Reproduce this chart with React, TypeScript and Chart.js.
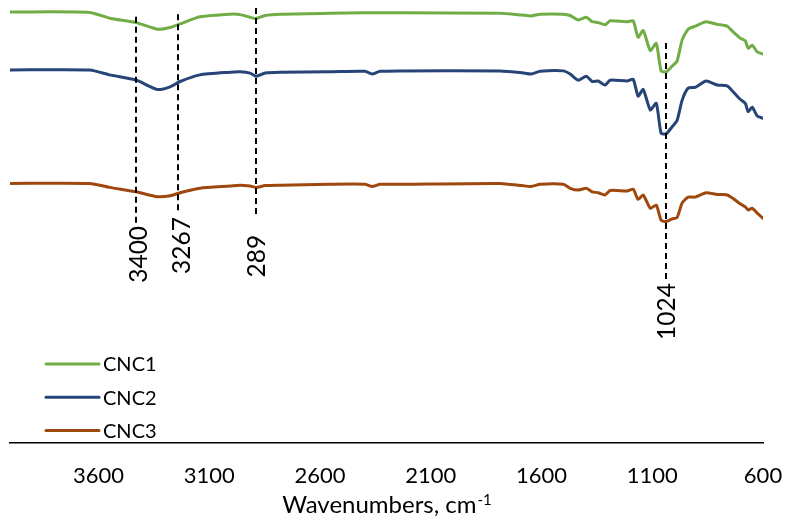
import React, { useEffect, useRef } from 'react';
import { Chart, registerables } from 'chart.js';

Chart.register(...registerables);

const wavenumbers = [4000, 3640, 3550, 3430, 3335, 3277, 3232, 3142, 3006, 2961, 2916, 2889, 2848, 2780, 2555, 2397, 2365, 2329, 2239, 1787, 1688, 1647, 1606, 1502, 1471, 1435, 1398, 1371, 1344, 1313, 1290, 1213, 1186, 1164, 1141, 1109, 1082, 1060, 1037, 1010, 988, 965, 938, 906, 857, 807, 762, 735, 703, 680, 667, 649, 626, 600];

const cnc1 = [97.3, 97.2, 95.9, 94.9, 93.4, 93.8, 94.6, 96.2, 96.8, 96.7, 96.1, 95.8, 96.5, 96.8, 97.0, 97.1, 97.1, 97.1, 97.1, 97.0, 96.6, 96.4, 96.8, 96.8, 96.5, 95.5, 96.1, 95.1, 94.9, 94.4, 95.3, 95.1, 95.3, 91.6, 93.1, 88.6, 90.2, 84.0, 83.8, 85.1, 86.2, 91.0, 93.4, 94.1, 95.1, 94.5, 94.1, 92.8, 91.4, 90.8, 89.1, 89.8, 88.3, 87.8];

const cnc2 = [84.2, 84.2, 83.1, 81.9, 79.8, 80.4, 81.6, 83.1, 83.7, 83.8, 83.5, 82.8, 83.5, 83.7, 83.8, 83.9, 83.3, 83.9, 84.0, 84.0, 83.6, 83.3, 83.9, 84.0, 83.3, 81.9, 82.8, 81.6, 81.7, 80.8, 81.9, 81.7, 82.1, 78.3, 79.8, 75.2, 76.7, 69.9, 69.8, 71.4, 72.8, 77.4, 80.1, 80.3, 81.7, 80.8, 80.6, 79.3, 77.6, 76.7, 74.8, 75.8, 73.8, 73.3];

const cnc3 = [58.6, 58.6, 57.7, 56.7, 55.6, 55.8, 56.5, 57.5, 58.0, 58.2, 58.0, 57.7, 58.1, 58.2, 58.4, 58.4, 57.9, 58.4, 58.4, 58.6, 58.1, 57.9, 58.4, 58.4, 57.5, 57.1, 57.5, 56.7, 56.5, 56.0, 57.0, 56.9, 57.3, 55.0, 56.0, 53.0, 53.7, 50.3, 50.0, 50.6, 50.9, 54.2, 55.5, 55.5, 56.5, 56.1, 56.0, 55.2, 54.0, 53.3, 52.6, 53.0, 51.9, 50.7];

const seriesLabels = ['CNC1', 'CNC2', 'CNC3'];
const xTicks = [600, 1100, 1600, 2100, 2600, 3100, 3600];

const peakLabels = ['3400', '3267', '289', '1024'];
const peakLineWavenumbers = [3431, 3243, 2887, 1038];
const peakLineTops = [96.2, 96.8, 98.2, 90.3];
const peakLineBottoms = [49.7, 51.9, 50.8, 36.8];
const peakLabelWavenumbers = [3415, 3225, 2883, 1033];
const peakLabelTops = [49.0, 51.0, 47.0, 36.1];

const axisTitle = 'Wavenumbers, cm';
const axisTitleSup = '-1';

const FONT = 'Lato, "Open Sans", sans-serif';
const COLORS = ['#70AD47', '#264478', '#9E480E'];

const peakPlugin = {
  id: 'peaks',
  afterDatasetsDraw(chart: any) {
    const ctx = chart.ctx;
    const xs = chart.scales.x;
    const ys = chart.scales.y;
    ctx.save();
    ctx.strokeStyle = '#000';
    ctx.lineWidth = 2;
    ctx.setLineDash([6, 4]);
    for (let i = 0; i < peakLabels.length; i++) {
      const px = Math.round(xs.getPixelForValue(peakLineWavenumbers[i]));
      ctx.beginPath();
      ctx.moveTo(px, ys.getPixelForValue(peakLineTops[i]));
      ctx.lineTo(px, ys.getPixelForValue(peakLineBottoms[i]));
      ctx.stroke();
    }
    ctx.setLineDash([]);
    ctx.fillStyle = '#000';
    ctx.font = `24.5px ${FONT}`;
    ctx.textAlign = 'right';
    ctx.textBaseline = 'middle';
    for (let i = 0; i < peakLabels.length; i++) {
      const lx = xs.getPixelForValue(peakLabelWavenumbers[i]);
      const ly = ys.getPixelForValue(peakLabelTops[i]);
      ctx.save();
      ctx.translate(lx, ly);
      ctx.rotate(-Math.PI / 2);
      ctx.fillText(peakLabels[i], 0, 0);
      ctx.restore();
    }
    ctx.restore();
  },
};

const legendPlugin = {
  id: 'innerLegend',
  afterDraw(chart: any) {
    const ctx = chart.ctx;
    const area = chart.chartArea;
    ctx.save();
    ctx.font = `20px ${FONT}`;
    ctx.textBaseline = 'middle';
    ctx.textAlign = 'left';
    for (let i = 0; i < seriesLabels.length; i++) {
      const y = area.bottom - 12.5 - (seriesLabels.length - 1 - i) * 33.3;
      ctx.strokeStyle = COLORS[i];
      ctx.lineWidth = 3;
      ctx.lineCap = 'round';
      ctx.beginPath();
      ctx.moveTo(area.left + 36, y);
      ctx.lineTo(area.left + 89, y);
      ctx.stroke();
      ctx.fillStyle = '#000';
      ctx.fillText(seriesLabels[i], area.left + 93, y + 1);
    }
    ctx.restore();
  },
};

const titlePlugin = {
  id: 'axisTitle',
  afterDraw(chart: any) {
    const ctx = chart.ctx;
    const area = chart.chartArea;
    ctx.save();
    ctx.fillStyle = '#000';
    ctx.textBaseline = 'alphabetic';
    ctx.textAlign = 'left';
    const mainFont = `24px ${FONT}`;
    const supFont = `15px ${FONT}`;
    ctx.font = mainFont;
    const w1 = ctx.measureText(axisTitle).width;
    ctx.font = supFont;
    const w2 = ctx.measureText(axisTitleSup).width;
    const cx = (area.left + area.right) / 2;
    const x0 = cx - (w1 + w2) / 2;
    const base = chart.height - 12;
    ctx.font = mainFont;
    ctx.fillText(axisTitle, x0, base);
    ctx.font = supFont;
    ctx.fillText(axisTitleSup, x0 + w1 + 1, base - 8);
    ctx.restore();
  },
};

export default function App() {
  const ref = useRef<HTMLCanvasElement | null>(null);
  useEffect(() => {
    if (!ref.current) return;
    const datasets = [cnc1, cnc2, cnc3].map((vals, i) => ({
      label: seriesLabels[i],
      data: wavenumbers.map((w, j) => ({ x: w, y: vals[j] })),
      borderColor: COLORS[i],
      backgroundColor: COLORS[i],
      borderWidth: 3,
      pointRadius: 0,
      tension: 0.2,
      borderCapStyle: 'round' as const,
      borderJoinStyle: 'round' as const,
      fill: false,
    }));
    const chart = new Chart(ref.current, {
      type: 'line',
      data: { datasets },
      options: {
        animation: false,
        responsive: false,
        maintainAspectRatio: false,
        layout: { padding: { left: 10, right: 25, top: 0, bottom: 0 } },
        plugins: {
          legend: { display: false },
          tooltip: { enabled: false },
        },
        scales: {
          x: {
            type: 'linear',
            reverse: true,
            min: 600,
            max: 4000,
            grid: { display: false, drawTicks: false },
            border: { display: true, color: '#000', width: 1.5 },
            ticks: {
              color: '#000',
              font: { family: FONT, size: 22 },
              padding: 20,
              autoSkip: false,
              maxRotation: 0,
              callback: (v: any) => String(v),
            },
            afterBuildTicks: (s: any) => {
              s.ticks = xTicks.map((v) => ({ value: v }));
            },
            afterFit: (s: any) => {
              s.height = 82;
              s.paddingLeft = 0;
              s.paddingRight = 0;
            },
          },
          y: {
            type: 'linear',
            display: false,
            min: 0,
            max: 100,
          },
        },
      },
      plugins: [peakPlugin, legendPlugin, titlePlugin],
    });
    return () => chart.destroy();
  }, []);
  return (
    <div style={{ position: 'absolute', left: 0, top: 0, width: 788, height: 525 }}>
      <canvas ref={ref} width={788} height={525} style={{ display: 'block' }} />
    </div>
  );
}
